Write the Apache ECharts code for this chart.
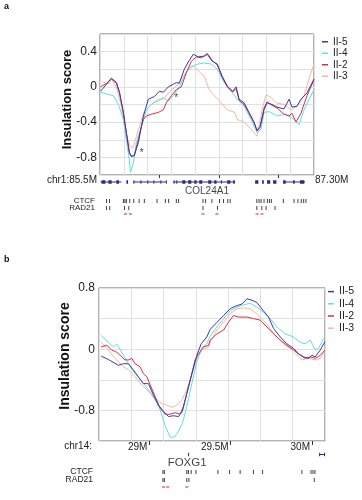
<!DOCTYPE html>
<html><head><meta charset="utf-8">
<script src="https://cdn.jsdelivr.net/npm/echarts@6/dist/echarts.min.js"></script>
<style>html,body{margin:0;padding:0;background:#fff}#c{width:362px;height:500px}</style>
</head><body><div id="c"></div>
<script>
// ---------------- data ----------------
const seriesNames = ['II-5', 'II-4', 'II-2', 'II-3'];

// Panel a: chr1 85.5M - 87.30M, insulation score [Mb, score]
const aII5 = [[85.504,-0.05],[85.555,0.03],[85.596,0.10],[85.638,0.05],[85.664,-0.06],[85.697,-0.29],[85.722,-0.52],[85.747,-0.75],[85.764,-0.79],[85.789,-0.78],[85.823,-0.63],[85.865,-0.33],[85.907,-0.14],[85.957,-0.11],[85.999,-0.05],[86.033,-0.06],[86.075,0.0],[86.117,0.03],[86.142,0.05],[86.167,0.04],[86.209,0.20],[86.242,0.28],[86.284,0.37],[86.326,0.34],[86.377,0.35],[86.402,0.37],[86.444,0.29],[86.486,0.26],[86.528,0.12],[86.570,0.01],[86.616,-0.05],[86.645,0.0],[86.670,-0.14],[86.712,-0.18],[86.754,-0.29],[86.796,-0.40],[86.821,-0.50],[86.846,-0.46],[86.880,-0.26],[86.905,-0.18],[86.947,-0.20],[86.989,-0.23],[87.048,-0.25],[87.090,-0.14],[87.115,-0.23],[87.157,-0.22],[87.190,-0.14],[87.241,-0.07],[87.300,0.09]];
const aII2 = [[85.504,0.00],[85.555,0.04],[85.596,0.09],[85.638,0.04],[85.664,-0.07],[85.697,-0.30],[85.722,-0.53],[85.747,-0.74],[85.764,-0.79],[85.789,-0.77],[85.823,-0.60],[85.848,-0.45],[85.865,-0.37],[85.890,-0.33],[85.932,-0.31],[85.991,-0.29],[86.033,-0.26],[86.058,-0.18],[86.100,-0.10],[86.142,-0.03],[86.184,0.00],[86.226,0.16],[86.268,0.29],[86.310,0.34],[86.352,0.33],[86.377,0.35],[86.402,0.38],[86.444,0.30],[86.486,0.25],[86.528,0.11],[86.570,0.00],[86.616,-0.06],[86.645,-0.02],[86.670,-0.15],[86.712,-0.20],[86.754,-0.30],[86.796,-0.41],[86.821,-0.49],[86.846,-0.45],[86.880,-0.24],[86.905,-0.17],[86.947,-0.21],[86.989,-0.24],[87.048,-0.31],[87.090,-0.33],[87.115,-0.30],[87.149,-0.40],[87.190,-0.30],[87.241,-0.10],[87.300,0.08]];
const aII4 = [[85.504,-0.06],[85.555,-0.08],[85.613,-0.10],[85.655,-0.20],[85.697,-0.37],[85.722,-0.60],[85.747,-0.83],[85.756,-0.97],[85.781,-0.86],[85.806,-0.63],[85.848,-0.45],[85.890,-0.26],[85.949,-0.18],[85.991,-0.16],[86.033,-0.12],[86.075,-0.16],[86.117,-0.10],[86.167,0.00],[86.226,0.17],[86.284,0.24],[86.326,0.26],[86.377,0.27],[86.435,0.26],[86.486,0.20],[86.544,0.05],[86.603,-0.05],[86.654,-0.14],[86.712,-0.22],[86.771,-0.37],[86.821,-0.52],[86.855,-0.48],[86.880,-0.29],[86.922,-0.28],[86.989,-0.33],[87.065,-0.31],[87.132,-0.37],[87.174,-0.43],[87.216,-0.26],[87.300,-0.03]];
const aII3 = [[85.521,0.06],[85.571,0.03],[85.596,0.09],[85.638,0.00],[85.680,-0.22],[85.714,-0.49],[85.747,-0.66],[85.773,-0.70],[85.798,-0.60],[85.831,-0.45],[85.873,-0.28],[85.932,-0.20],[85.991,-0.14],[86.033,-0.14],[86.083,-0.06],[86.142,0.01],[86.200,0.12],[86.268,0.24],[86.301,0.22],[86.335,0.17],[86.377,0.12],[86.419,-0.03],[86.461,-0.10],[86.519,-0.18],[86.570,-0.26],[86.633,-0.29],[86.654,-0.37],[86.712,-0.40],[86.771,-0.48],[86.821,-0.56],[86.863,-0.26],[86.897,-0.09],[86.939,-0.12],[86.981,-0.18],[87.048,-0.20],[87.107,-0.26],[87.157,-0.22],[87.216,-0.10],[87.258,0.09],[87.300,0.26]];
const aStars = [[85.85,-0.75],[86.14,-0.13]];
const aGenomicTicks = [86, 86.5, 87];
const aRegionStart = 'chr1:85.5M';
const aRegionEnd = '87.30M';
// gene features [start, end, kind] kind 0 = intron line, 1 = exon block
const aGenes = [
  [85.504,85.680,0],[85.513,85.545,1],[85.571,85.598,1],[85.638,85.660,1],
  [85.722,85.736,1],
  [85.781,86.058,0],[85.781,85.785,1],[85.840,85.844,1],[85.898,85.902,1],[85.949,85.953,1],[86.008,86.012,1],[86.054,86.058,1],
  [86.117,86.637,0],[86.119,86.123,1],[86.142,86.146,1],[86.192,86.218,1],[86.242,86.268,1],[86.293,86.312,1],[86.335,86.360,1],[86.410,86.436,1],[86.461,86.480,1],[86.517,86.521,1],[86.570,86.596,1],[86.620,86.634,1],
  [86.805,86.832,1],[86.863,86.878,1],[86.905,86.932,1],[86.956,86.984,1],
  [87.040,87.224,0],[87.040,87.062,1],[87.124,87.138,1],[87.182,87.218,1]
];
const aGeneLabels = [['COL24A1', 86.40]];
const aCTCF = [85.555,85.580,85.697,85.710,85.722,85.750,85.784,85.829,85.873,85.980,86.050,86.077,86.142,86.161,86.366,86.388,86.441,86.505,86.539,86.575,86.595,86.819,86.838,86.855,86.880,86.908,86.925,86.941,87.042,87.132,87.165,87.193,87.213,87.232];
const aRAD21 = [85.555,85.582,85.706,85.742,86.366,86.488,86.819,86.861,86.897,86.972];
const aShared = [85.714,85.756,86.366,86.483,86.821,86.863];

// Panel b: chr14
const bII5 = [[28.703,-0.09],[28.748,-0.135],[28.809,-0.21],[28.840,-0.19],[28.871,-0.19],[28.901,-0.27],[28.932,-0.36],[28.963,-0.45],[28.994,-0.45],[29.025,-0.60],[29.055,-0.73],[29.086,-0.81],[29.117,-0.88],[29.148,-0.87],[29.179,-0.88],[29.203,-0.81],[29.230,-0.58],[29.261,-0.32],[29.292,-0.08],[29.318,0.07],[29.353,0.16],[29.374,0.26],[29.415,0.35],[29.456,0.44],[29.497,0.53],[29.538,0.57],[29.569,0.59],[29.600,0.66],[29.631,0.64],[29.661,0.61],[29.702,0.50],[29.733,0.42],[29.764,0.27],[29.805,0.16],[29.846,0.07],[29.887,0.01],[29.917,-0.06],[29.948,-0.10],[29.979,-0.12],[30.000,-0.08],[30.020,-0.10],[30.051,-0.01],[30.080,0.10]];
const bII4 = [[28.703,0.18],[28.748,0.09],[28.778,0.03],[28.799,0.07],[28.830,-0.04],[28.871,-0.19],[28.912,-0.32],[28.953,-0.42],[28.994,-0.53],[29.035,-0.66],[29.066,-0.79],[29.097,-1.00],[29.127,-1.15],[29.154,-1.15],[29.179,-1.07],[29.203,-0.97],[29.230,-0.75],[29.261,-0.45],[29.292,-0.16],[29.323,0.01],[29.353,0.07],[29.374,0.17],[29.415,0.29],[29.456,0.40],[29.497,0.50],[29.538,0.55],[29.579,0.58],[29.620,0.60],[29.661,0.55],[29.702,0.48],[29.743,0.40],[29.784,0.29],[29.836,0.20],[29.887,0.16],[29.928,0.09],[29.959,0.07],[29.990,0.12],[30.020,-0.01],[30.041,0.01],[30.071,0.14]];
const bII2 = [[28.703,0.03],[28.738,0.05],[28.768,-0.01],[28.799,-0.04],[28.820,-0.08],[28.850,-0.14],[28.871,-0.14],[28.892,-0.12],[28.912,-0.19],[28.943,-0.23],[28.963,-0.32],[28.984,-0.36],[29.004,-0.46],[29.035,-0.62],[29.066,-0.77],[29.097,-0.85],[29.127,-0.85],[29.158,-0.83],[29.189,-0.85],[29.209,-0.75],[29.236,-0.53],[29.261,-0.32],[29.281,-0.14],[29.302,-0.06],[29.333,0.03],[29.363,0.05],[29.374,0.12],[29.415,0.20],[29.456,0.25],[29.486,0.35],[29.517,0.44],[29.548,0.42],[29.600,0.42],[29.640,0.40],[29.682,0.38],[29.723,0.29],[29.764,0.20],[29.805,0.12],[29.846,0.05],[29.887,-0.01],[29.928,-0.08],[29.959,-0.12],[29.990,-0.10],[30.020,-0.12],[30.051,-0.08],[30.080,-0.01]];
const bII3 = [[28.703,0.09],[28.748,-0.01],[28.789,-0.12],[28.830,-0.21],[28.871,-0.27],[28.912,-0.36],[28.953,-0.47],[28.994,-0.55],[29.035,-0.64],[29.076,-0.71],[29.107,-0.73],[29.138,-0.76],[29.169,-0.73],[29.200,-0.66],[29.230,-0.53],[29.261,-0.34],[29.292,-0.12],[29.323,-0.01],[29.363,0.03],[29.379,0.11],[29.415,0.25],[29.466,0.38],[29.497,0.46],[29.538,0.53],[29.579,0.54],[29.620,0.53],[29.661,0.46],[29.702,0.38],[29.743,0.27],[29.784,0.16],[29.825,0.07],[29.866,0.01],[29.908,-0.08],[29.938,-0.14],[29.979,-0.12],[30.020,-0.14],[30.051,-0.12],[30.080,-0.01]];
const bTickValues = [29, 29.5, 30];
const bRegionStart = 'chr14:';
const bGenes = [[29.238,29.242,1],[30.045,30.076,0],[30.044,30.047,1],[30.074,30.077,1]];
const bGeneLabels = [['FOXG1', 29.232]];
const bCTCF = [29.083,29.092,29.230,29.240,29.257,29.286,29.421,29.493,29.558,29.640,29.696,29.938,29.994,30.006,30.018];
const bRAD21 = [29.083,29.092,29.230,29.243,30.014];
const bShared = [29.087,29.112,29.230];

// ---------------- layout ----------------
const FONT = '"Liberation Sans", Arial, Helvetica, sans-serif';
const COLORS = {'II-5':'#3f3aa2','II-4':'#5ee0e2','II-2':'#d2304c','II-3':'#f4b99c'};
const GRIDC = '#e0e0e0';
const grid = [], xAxis = [], yAxis = [], series = [];
function addGrid(g, xs, ys) {
  const gi = grid.push(g) - 1;
  const xi = xs.map(x => xAxis.push(Object.assign({gridIndex: gi}, x)) - 1);
  const yi = ys.map(y => yAxis.push(Object.assign({gridIndex: gi}, y)) - 1);
  return {xi, yi};
}
const hidden = (o) => Object.assign({show: false, type: 'value', axisLine: {show: false, onZero: false}}, o);
function geneRender(params, api) {
  const s = api.coord([api.value(0), 0.5]);
  const e = api.coord([api.value(1), 0.5]);
  const h = api.value(2) === 1 ? 3.5 : 1;
  return {type: 'rect', shape: {x: s[0], y: s[1] - h / 2, width: Math.max(e[0] - s[0], 1), height: h},
          style: {fill: '#2a2b86'}};
}

function buildPanel(p) {
  const main = addGrid(
    {left: p.left, top: p.top, width: p.width, height: p.height, show: true, borderColor: '#666', borderWidth: 1},
    [p.genomicAxis,
     {type: 'value', min: 0, max: p.divisions, interval: 1, position: 'bottom',
      axisLine: {show: false, onZero: false}, axisTick: {show: false}, axisLabel: {show: false},
      splitLine: {show: true, lineStyle: {color: GRIDC, width: 1}},
      name: p.endName || '', nameLocation: 'end', nameGap: 1, nameMoveOverlap: false,
      nameTextStyle: {fontFamily: FONT, fontSize: 10, color: '#222', verticalAlign: 'top', align: 'left'}}],
    [{type: 'value', min: p.ymin, max: p.ymax, interval: p.yint,
      axisLine: {show: false, onZero: false}, axisTick: {show: false},
      splitLine: {show: true, lineStyle: {color: GRIDC, width: 1}},
      axisLabel: {fontFamily: FONT, fontSize: 12, color: '#222', margin: p.labelMargin,
                  formatter: v => (Math.round(v * 10) % p.labelEvery === 0) ? String(Math.round(v * 10) / 10) : ''},
      name: 'Insulation score', nameLocation: 'middle', nameGap: p.nameGap, nameMoveOverlap: false,
      nameTextStyle: {fontFamily: FONT, fontWeight: 'bold', fontSize: p.nameSize, color: '#111', padding: [0, 0, 0, p.namePad]}}]
  );
  p.lines.forEach(([name, data]) => series.push({
    type: 'line', name, data, xAxisIndex: main.xi[0], yAxisIndex: main.yi[0],
    showSymbol: false, symbol: 'none', lineStyle: {width: 1, color: COLORS[name]}, itemStyle: {color: COLORS[name]},
    z: 3
  }));
  if (p.stars) series.push({
    type: 'scatter', data: p.stars, xAxisIndex: main.xi[0], yAxisIndex: main.yi[0], symbolSize: 0,
    label: {show: true, formatter: '*', position: 'inside', fontFamily: FONT, fontSize: 10, color: '#111'}, z: 5
  });
  const xr = {min: p.xmin, max: p.xmax};
  // gene track
  const g = addGrid({left: p.left, top: p.geneTop, width: p.width, height: 4},
                    [hidden(xr)], [hidden({min: 0, max: 1})]);
  series.push({type: 'custom', renderItem: geneRender, data: p.genes, encode: {x: [0, 1]},
               xAxisIndex: g.xi[0], yAxisIndex: g.yi[0], clip: false});
  // gene name
  const gl = addGrid({left: p.left, top: p.labelTop, width: p.width, height: 2},
                     [hidden(xr)], [hidden({min: 0, max: 1})]);
  series.push({type: 'scatter', symbolSize: 0, xAxisIndex: gl.xi[0], yAxisIndex: gl.yi[0],
               data: p.geneLabels.map(([n, x]) => ({name: n, value: [x, 0.5]})),
               label: {show: true, position: 'inside', formatter: '{b}', fontFamily: FONT, fontSize: p.geneFont, color: '#111'}});
  // CTCF / RAD21 / shared rows
  const rows = [['CTCF', p.ctcf, p.ctcfTop], ['RAD21', p.rad21, p.radTop]];
  rows.forEach(([lab, pos, top]) => {
    const r = addGrid({left: p.left, top, width: p.width, height: 4},
      [hidden(xr)],
      [{type: 'category', data: [lab], axisLine: {show: false}, axisTick: {show: false}, splitLine: {show: false},
        axisLabel: {fontFamily: FONT, fontSize: p.trackFont, color: '#222', margin: p.trackMargin}}]);
    series.push({type: 'scatter', xAxisIndex: r.xi[0], yAxisIndex: r.yi[0], symbol: 'rect', symbolSize: [1, 4],
                 itemStyle: {color: '#111'}, data: pos.map(x => [x, 0])});
  });
  const s = addGrid({left: p.left, top: p.sharedTop, width: p.width, height: 2},
                    [hidden(xr)], [hidden({min: 0, max: 1})]);
  series.push({type: 'scatter', xAxisIndex: s.xi[0], yAxisIndex: s.yi[0], symbol: 'rect', symbolSize: [3, 1.5],
               itemStyle: {color: '#e8403a'}, data: p.shared.map(x => [x, 0.5])});
}

buildPanel({
  left: 100, top: 34, width: 214, height: 141, divisions: 9,
  xmin: 85.5, xmax: 87.3, ymin: -1.0, ymax: 0.6, yint: 0.2, labelEvery: 4, labelMargin: 3,
  nameGap: 26, nameSize: 13, namePad: 10,
  genomicAxis: {type: 'value', min: 85.5, max: 87.3, position: 'bottom', splitLine: {show: false},
    axisLine: {show: false, onZero: false}, axisLabel: {show: false},
    axisTick: {show: true, customValues: aGenomicTicks, length: 3, lineStyle: {color: '#333'}},
    name: aRegionStart, nameLocation: 'start', nameGap: 3, nameMoveOverlap: false,
    nameTextStyle: {fontFamily: FONT, fontSize: 10, color: '#222', verticalAlign: 'top', align: 'right'}},
  endName: aRegionEnd,
  lines: [['II-3', aII3], ['II-4', aII4], ['II-2', aII2], ['II-5', aII5]],
  stars: aStars,
  genes: aGenes, geneTop: 180, labelTop: 190, geneLabels: aGeneLabels, geneFont: 10,
  ctcf: aCTCF, rad21: aRAD21, shared: aShared, ctcfTop: 199, radTop: 206, sharedTop: 213,
  trackFont: 8, trackMargin: 5
});
buildPanel({
  left: 99, top: 288, width: 226, height: 153, divisions: 7,
  xmin: 28.69, xmax: 30.08, ymin: -1.2, ymax: 0.8, yint: 0.4, labelEvery: 8, labelMargin: 4,
  nameGap: 27, nameSize: 14, namePad: 17,
  genomicAxis: {type: 'value', min: 28.69, max: 30.08, position: 'bottom', splitLine: {show: false},
    axisLine: {show: false, onZero: false},
    axisTick: {show: true, customValues: bTickValues, length: 4, lineStyle: {color: '#333'}},
    axisLabel: {show: true, customValues: bTickValues, formatter: v => v + 'M', align: 'right', margin: 1,
                padding: [0, 2, 0, 0], fontFamily: FONT, fontSize: 10, color: '#222'},
    name: bRegionStart, nameLocation: 'start', nameGap: 7, nameMoveOverlap: false,
    nameTextStyle: {fontFamily: FONT, fontSize: 10, color: '#222', verticalAlign: 'top', align: 'right'}},
  endName: '',
  lines: [['II-3', bII3], ['II-4', bII4], ['II-2', bII2], ['II-5', bII5]],
  genes: bGenes, geneTop: 452.5, labelTop: 461.5, geneLabels: bGeneLabels, geneFont: 11.5,
  ctcf: bCTCF, rad21: bRAD21, shared: bShared, ctcfTop: 470, radTop: 478, sharedTop: 486,
  trackFont: 8.5, trackMargin: 6
});

const legendBase = {data: seriesNames, orient: 'vertical', icon: 'rect', itemWidth: 6, itemHeight: 1.5,
                    itemGap: 0, selectedMode: false, padding: 0};
const option = {
  animation: false,
  backgroundColor: '#fff',
  textStyle: {fontFamily: FONT},
  title: [
    {text: 'a', left: 4, top: 2, padding: 0, textStyle: {fontFamily: FONT, fontSize: 9, fontWeight: 'bold', color: '#111'}},
    {text: 'b', left: 4, top: 255, padding: 0, textStyle: {fontFamily: FONT, fontSize: 9, fontWeight: 'bold', color: '#111'}}
  ],
  legend: [
    Object.assign({}, legendBase, {left: 322, top: 36, textStyle: {fontFamily: FONT, fontSize: 10, color: '#222', lineHeight: 11.5}}),
    Object.assign({}, legendBase, {left: 328, top: 285.5, textStyle: {fontFamily: FONT, fontSize: 10.5, color: '#222', lineHeight: 12.2}})
  ],
  grid, xAxis, yAxis, series
};
echarts.init(document.getElementById('c'), null, {renderer: 'canvas'}).setOption(option);
</script>
</body></html>
